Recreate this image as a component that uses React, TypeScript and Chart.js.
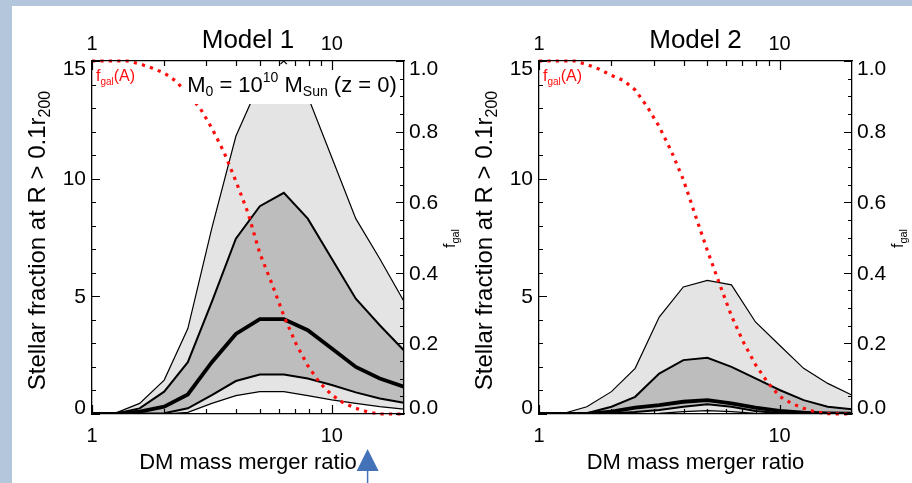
import React, { useEffect, useRef } from 'react';
import { Chart, registerables } from 'chart.js';

Chart.register(...registerables);

const FONT = '"Liberation Sans", Arial, Helvetica, sans-serif';
const BLUE_BG = '#b4c6dc';
const LIGHT = '#e4e4e4';
const DARK = '#bdbdbd';
const RED = '#ff0d0d';
const ARROW_BLUE = '#4472b8';

// ---- data ----
const MASS_RATIO = [1, 1.26, 1.58, 2.0, 2.51, 3.16, 3.98, 5.01, 6.31, 7.94, 10.0, 12.59, 15.85, 19.95];

const M1_OUTER_HI = [0, 0.05, 0.45, 1.44, 3.63, 7.9, 11.8, 14.1, 14.7, 13.5, 10.9, 8.3, 6.6, 4.8];
const M1_DARK_HI = [0, 0.02, 0.24, 0.95, 2.2, 4.76, 7.45, 8.83, 9.4, 8.3, 6.6, 4.9, 3.77, 2.71];
const M1_MEDIAN = [0, 0, 0.1, 0.31, 0.83, 2.2, 3.4, 4.03, 4.03, 3.56, 2.78, 2.0, 1.51, 1.16];
const M1_DARK_LO = [0, 0, 0.02, 0.03, 0.24, 0.8, 1.4, 1.68, 1.68, 1.51, 1.23, 0.92, 0.66, 0.48];
const M1_OUTER_LO = [0, 0, 0, 0, 0.07, 0.45, 0.78, 0.95, 0.95, 0.78, 0.6, 0.45, 0.31, 0.21];

const M2_OUTER_HI = [0, 0.02, 0.31, 0.95, 1.94, 4.12, 5.4, 5.68, 5.49, 3.91, 2.92, 1.94, 1.3, 0.81];
const M2_DARK_HI = [0, 0, 0.03, 0.31, 0.73, 1.72, 2.29, 2.39, 2.0, 1.51, 1.02, 0.59, 0.31, 0.2];
const M2_MEDIAN = [0, 0, 0, 0.1, 0.27, 0.38, 0.52, 0.59, 0.45, 0.27, 0.13, 0.06, 0.03, 0.01];
const M2_DARK_LO = [0, 0, 0, 0.02, 0.08, 0.17, 0.31, 0.41, 0.31, 0.13, 0.03, 0, 0, 0];
const M2_OUTER_LO = [0, 0, 0, 0, 0, 0.03, 0.1, 0.14, 0.1, 0.03, 0, 0, 0, 0];

const FGAL_RATIO = [1, 1.12, 1.26, 1.41, 1.58, 1.78, 2.0, 2.24, 2.51, 2.82, 3.16, 3.55, 3.98, 4.47, 5.01, 5.62, 6.31, 7.08, 7.94, 8.91, 10, 11.2, 12.6, 14.1, 15.8, 17.8, 19.95];
const M1_FGAL = [1, 1, 1, 1, 0.992, 0.98, 0.966, 0.943, 0.906, 0.867, 0.81, 0.742, 0.66, 0.57, 0.455, 0.37, 0.278, 0.2, 0.137, 0.088, 0.054, 0.031, 0.016, 0.006, 0, 0, 0];
const M2_FGAL = [1, 1, 1, 1, 0.99, 0.977, 0.959, 0.945, 0.918, 0.87, 0.814, 0.744, 0.664, 0.562, 0.463, 0.37, 0.278, 0.203, 0.14, 0.09, 0.05, 0.03, 0.016, 0.006, 0.001, 0, 0];

const M1_MARKER_X = [6.3];
const M1_MARKER_Y = [15];
const ARROW_X = 14.1;

// ---- ticks ----
const X_LABEL_TICKS = [1, 10];
const X_MAJOR_TICKS = [1, 10];
const X_MINOR_TICKS = [2, 3, 4, 5, 6, 7, 8, 9];
const Y_MAJOR_TICKS = [0, 5, 10, 15];
const Y_MINOR_TICKS = [1, 2, 3, 4, 6, 7, 8, 9, 11, 12, 13, 14];
const Y2_MAJOR_TICKS = [0, 0.2, 0.4, 0.6, 0.8, 1.0];
const Y2_MINOR_TICKS = [0.05, 0.1, 0.15, 0.25, 0.3, 0.35, 0.45, 0.5, 0.55, 0.65, 0.7, 0.75, 0.85, 0.9, 0.95];

type Run = { t: string; size: number; dy?: number };

const Y_TITLE: Run[] = [
  { t: 'Stellar fraction at R > 0.1r', size: 24 },
  { t: '200', size: 16, dy: 5 },
];
const Y2_TITLE: Run[] = [
  { t: 'f', size: 16 },
  { t: 'gal', size: 11, dy: 4 },
];
const FGAL_LABEL: Run[] = [
  { t: 'f', size: 16 },
  { t: 'gal', size: 10, dy: 3.5 },
  { t: '(A)', size: 16 },
];
const MASS_LABEL: Run[] = [
  { t: 'M', size: 22 },
  { t: '0', size: 14, dy: 4 },
  { t: ' = 10', size: 22 },
  { t: '10', size: 14, dy: -10 },
  { t: ' M', size: 22 },
  { t: 'Sun', size: 14, dy: 4 },
  { t: ' (z = 0)', size: 22 },
];

function richWidth(ctx: CanvasRenderingContext2D, runs: Run[]) {
  let w = 0;
  for (const r of runs) {
    ctx.font = `${r.size}px ${FONT}`;
    w += ctx.measureText(r.t).width;
  }
  return w;
}

function drawRich(ctx: CanvasRenderingContext2D, runs: Run[], x: number, y: number, align: 'left' | 'center') {
  const w = richWidth(ctx, runs);
  let cx = align === 'center' ? x - w / 2 : x;
  ctx.textAlign = 'left';
  ctx.textBaseline = 'alphabetic';
  for (const r of runs) {
    ctx.font = `${r.size}px ${FONT}`;
    ctx.fillText(r.t, cx, y + (r.dy || 0));
    cx += ctx.measureText(r.t).width;
  }
}

interface PanelSpec {
  title: string;
  outerHi: number[];
  darkHi: number[];
  median: number[];
  darkLo: number[];
  outerLo: number[];
  fgal: number[];
  markerX: number[];
  markerY: number[];
  showMassBox: boolean;
  arrowX: number | null;
  left: number;
  top: number;
  width: number;
  height: number;
  axisLeft: number;
  axisRight: number;
  axisTop: number;
  axisBottom: number;
}

const PANELS: PanelSpec[] = [
  {
    title: 'Model 1',
    outerHi: M1_OUTER_HI, darkHi: M1_DARK_HI, median: M1_MEDIAN, darkLo: M1_DARK_LO, outerLo: M1_OUTER_LO,
    fgal: M1_FGAL, markerX: M1_MARKER_X, markerY: M1_MARKER_Y, showMassBox: true, arrowX: ARROW_X,
    left: 12, top: 6, width: 458, height: 477, axisLeft: 80, axisRight: 66, axisTop: 55, axisBottom: 69,
  },
  {
    title: 'Model 2',
    outerHi: M2_OUTER_HI, darkHi: M2_DARK_HI, median: M2_MEDIAN, darkLo: M2_DARK_LO, outerLo: M2_OUTER_LO,
    fgal: M2_FGAL, markerX: [], markerY: [], showMassBox: false, arrowX: null,
    left: 470, top: 6, width: 442, height: 477, axisLeft: 69, axisRight: 60, axisTop: 55, axisBottom: 69,
  },
];

const pts = (xs: number[], ys: number[]) => ys.map((y, i) => ({ x: xs[i], y }));
const clamp = (v: number, lo: number, hi: number) => Math.max(lo, Math.min(hi, v));

function makePlugin(spec: PanelSpec) {
  return {
    id: 'panelDecor',
    afterDatasetsDraw(chart: any) {
      if (!spec.showMassBox) return;
      const { ctx, chartArea: a } = chart;
      ctx.save();
      const bx0 = a.left + 91;
      const bx1 = a.right - 3;
      ctx.fillStyle = '#ffffff';
      ctx.fillRect(bx0, a.top + 5, bx1 - bx0, 38);
      ctx.fillStyle = '#000';
      drawRich(ctx, MASS_LABEL, (bx0 + bx1) / 2, a.top + 31, 'center');
      ctx.restore();
    },
    afterDraw(chart: any) {
      const { ctx, chartArea: a, scales } = chart;
      const xs = scales.x;
      const ys = scales.y;
      const y2s = scales.y2;
      ctx.save();
      ctx.strokeStyle = '#000';
      ctx.lineWidth = 1.2;
      ctx.beginPath();
      const xTick = (vals: number[], len: number) =>
        vals.forEach((v) => {
          const px = Math.round(xs.getPixelForValue(v)) + 0.5;
          ctx.moveTo(px, a.bottom);
          ctx.lineTo(px, a.bottom - len);
          ctx.moveTo(px, a.top);
          ctx.lineTo(px, a.top + len);
        });
      xTick(X_MINOR_TICKS, 5);
      xTick(X_MAJOR_TICKS, 9);
      const yTick = (vals: number[], len: number) =>
        vals.forEach((v) => {
          const py = Math.round(ys.getPixelForValue(v)) + 0.5;
          ctx.moveTo(a.left, py);
          ctx.lineTo(a.left + len, py);
        });
      yTick(Y_MINOR_TICKS, 4);
      yTick(Y_MAJOR_TICKS, 8);
      const y2Tick = (vals: number[], len: number) =>
        vals.forEach((v) => {
          const py = Math.round(y2s.getPixelForValue(v)) + 0.5;
          ctx.moveTo(a.right, py);
          ctx.lineTo(a.right - len, py);
        });
      y2Tick(Y2_MINOR_TICKS, 4);
      y2Tick(Y2_MAJOR_TICKS, 8);
      ctx.stroke();

      // y tick labels
      ctx.fillStyle = '#000';
      ctx.font = `21px ${FONT}`;
      ctx.textBaseline = 'middle';
      ctx.textAlign = 'right';
      Y_MAJOR_TICKS.forEach((v) => {
        const py = clamp(ys.getPixelForValue(v) + 1, a.top + 8.5, a.bottom - 6);
        ctx.fillText(String(v), a.left - 6, py);
      });
      ctx.textAlign = 'left';
      Y2_MAJOR_TICKS.forEach((v) => {
        const py = clamp(y2s.getPixelForValue(v) + 1, a.top + 8.5, a.bottom - 6);
        ctx.fillText(v.toFixed(1), a.right + 5, py);
      });

      const cx = (a.left + a.right) / 2;
      const cy = (a.top + a.bottom) / 2;

      // title
      ctx.font = `26px ${FONT}`;
      ctx.textAlign = 'center';
      ctx.textBaseline = 'alphabetic';
      ctx.fillText(spec.title, cx, a.top - 13);

      // x title
      ctx.font = `22px ${FONT}`;
      ctx.fillText('DM mass merger ratio', cx, a.bottom + 55);

      // y title (rotated)
      ctx.save();
      ctx.translate(a.left - 47, cy + 3);
      ctx.rotate(-Math.PI / 2);
      drawRich(ctx, Y_TITLE, 0, 0, 'center');
      ctx.restore();

      // right title
      ctx.save();
      ctx.translate(a.right + 51, cy + 1);
      ctx.rotate(-Math.PI / 2);
      drawRich(ctx, Y2_TITLE, 0, 0, 'center');
      ctx.restore();

      // red label
      ctx.fillStyle = RED;
      drawRich(ctx, FGAL_LABEL, a.left + 4, a.top + 20, 'left');

      // arrow annotation
      if (spec.arrowX !== null) {
        const ax = xs.getPixelForValue(spec.arrowX);
        const ay = a.bottom + 35;
        ctx.fillStyle = ARROW_BLUE;
        ctx.beginPath();
        ctx.moveTo(ax, ay);
        ctx.lineTo(ax + 11, ay + 22);
        ctx.lineTo(ax - 11, ay + 22);
        ctx.closePath();
        ctx.fill();
        ctx.strokeStyle = ARROW_BLUE;
        ctx.lineWidth = 1.5;
        ctx.beginPath();
        ctx.moveTo(ax, ay + 22);
        ctx.lineTo(ax, chart.height);
        ctx.stroke();
      }
      ctx.restore();
    },
  };
}

function xAxis(position: 'top' | 'bottom', size: number, padding: number) {
  return {
    type: 'logarithmic',
    position,
    min: 1,
    max: 20,
    grid: { display: false, drawTicks: false },
    border: { display: true, color: '#000', width: 1.3, z: 1 },
    ticks: {
      font: { family: FONT, size: 20 },
      color: '#000',
      padding,
      maxRotation: 0,
      autoSkip: false,
      callback: (v: any) => String(v),
    },
    afterBuildTicks: (s: any) => {
      s.ticks = X_LABEL_TICKS.map((v) => ({ value: v }));
    },
    afterFit: (s: any) => {
      s.height = size;
    },
  };
}

function yAxis(position: 'left' | 'right', max: number, size: number) {
  return {
    type: 'linear',
    position,
    min: 0,
    max,
    grid: { display: false, drawTicks: false },
    border: { display: true, color: '#000', width: 1.3, z: 1 },
    ticks: { display: false },
    afterFit: (s: any) => {
      s.width = size;
    },
  };
}

function Panel({ spec }: { spec: PanelSpec }) {
  const ref = useRef<HTMLCanvasElement | null>(null);
  useEffect(() => {
    if (!ref.current) return;
    const line = (data: number[], width: number, extra: any = {}) => ({
      data: pts(MASS_RATIO, data),
      borderColor: '#000',
      borderWidth: width,
      pointRadius: 0,
      fill: false,
      yAxisID: 'y',
      ...extra,
    });
    const chart = new Chart(ref.current, {
      type: 'line',
      data: {
        datasets: [
          {
            data: pts(spec.markerX, spec.markerY),
            showLine: false,
            pointStyle: 'crossRot',
            pointRadius: 4.5,
            pointBorderColor: '#000',
            pointBorderWidth: 1.2,
            yAxisID: 'y',
            clip: 0,
          },
          {
            data: pts(FGAL_RATIO, spec.fgal),
            borderColor: RED,
            borderWidth: 3.2,
            borderDash: [3.2, 5.2],
            borderCapStyle: 'butt',
            pointRadius: 0,
            fill: false,
            yAxisID: 'y2',
            clip: false,
          },
          line(spec.median, 3.8),
          line(spec.darkLo, 2),
          line(spec.darkHi, 2, { fill: '-1', backgroundColor: DARK }),
          line(spec.outerLo, 1.2),
          line(spec.outerHi, 1.2, { fill: '-1', backgroundColor: LIGHT }),
        ],
      } as any,
      options: {
        responsive: false,
        animation: false,
        events: [],
        layout: { padding: 0, autoPadding: false },
        elements: { line: { tension: 0 }, point: { radius: 0 } },
        plugins: { legend: { display: false }, tooltip: { enabled: false }, title: { display: false } },
        scales: {
          x: xAxis('bottom', spec.axisBottom, 10),
          xTop: xAxis('top', spec.axisTop, 5),
          y: yAxis('left', 15, spec.axisLeft),
          y2: yAxis('right', 1, spec.axisRight),
        },
      } as any,
      plugins: [makePlugin(spec)],
    });
    return () => chart.destroy();
  }, [spec]);
  return (
    <canvas
      ref={ref}
      width={spec.width}
      height={spec.height}
      style={{ position: 'absolute', left: spec.left, top: spec.top, width: spec.width, height: spec.height }}
    />
  );
}

export default function App() {
  return (
    <div style={{ position: 'fixed', left: 0, top: 0, width: 912, height: 483, background: BLUE_BG, overflow: 'hidden' }}>
      <div style={{ position: 'absolute', left: 12, top: 6, width: 900, height: 477, background: '#ffffff' }} />
      {PANELS.map((p) => (
        <Panel key={p.title} spec={p} />
      ))}
    </div>
  );
}
